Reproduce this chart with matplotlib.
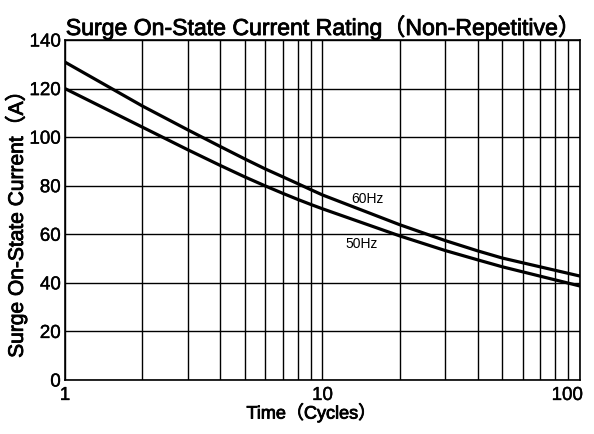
import matplotlib
matplotlib.use("Agg")
from matplotlib import pyplot as plt
from matplotlib import patheffects as pe
from matplotlib.transforms import ScaledTranslation
from matplotlib.ticker import FixedLocator, NullFormatter

plt.rcParams["font.family"] = ["Liberation Sans", "Noto Sans CJK JP", "DejaVu Sans"]

# ---- data ----
cycles = [1, 2, 3, 4, 5, 6, 7, 8, 9, 10, 20, 30, 40, 50, 100]
i_60hz = [130.9, 112.8, 103.0, 96.2, 91.0, 86.9, 83.7, 80.9, 78.4, 76.2,
          63.9, 57.4, 53.2, 50.2, 42.8]
i_50hz = [120.0, 104.1, 94.8, 88.4, 83.6, 79.9, 76.9, 74.4, 72.3, 70.5,
          59.3, 53.3, 49.5, 46.6, 38.7]
x_ticks = [1, 10, 100]
x_tick_labels = ["1", "10", "100"]
y_ticks = [0, 20, 40, 60, 80, 100, 120, 140]

fig = plt.figure(figsize=(5.94, 4.34), dpi=100)
ax = fig.add_axes([0.1094, 0.1244, 0.867, 0.7834])

ax.plot(cycles, i_60hz, color="black", lw=2.3, zorder=3)
ax.plot(cycles, i_50hz, color="black", lw=2.3, zorder=3)

ax.set_xscale("log")
ax.set_xlim(1, 100)
ax.set_ylim(0, 140)
ax.set_xticks(x_ticks)
ax.set_xticklabels(x_tick_labels)
ax.set_yticks(y_ticks)
ax.xaxis.set_minor_locator(FixedLocator([2, 3, 4, 5, 6, 7, 8, 9, 20, 30, 40, 50, 60, 70, 80, 90]))
ax.xaxis.set_minor_formatter(NullFormatter())
ax.tick_params(which="both", length=0, labelsize=13.5)
ax.tick_params(axis="x", pad=5)
ax.tick_params(axis="y", pad=3)
# last x label sits inside the figure, as in the original
last = ax.get_xticklabels()[-1]
last.set_ha("right")
last.set_transform(last.get_transform() + ScaledTranslation(3 / 100, 0, fig.dpi_scale_trans))

ax.grid(True, which="both", axis="x", color="black", lw=1.0)
ax.grid(True, which="major", axis="y", color="black", lw=1.0)
for s in ax.spines.values():
    s.set_linewidth(1.2)

ax.text(14.9, 74.5, "60Hz", fontsize=10, ha="center", va="center")
ax.text(14.2, 56, "50Hz", fontsize=10, ha="center", va="center")

# medium weight look
medium = [pe.withStroke(linewidth=0.6, foreground="black")]
t = ax.set_title("Surge On-State Current Rating（Non-Repetitive）", fontsize=16.6, pad=3)
xl = ax.set_xlabel("Time（Cycles）", fontsize=13.0)
yl = ax.set_ylabel("Surge On-State Current（A）", fontsize=15.1)
for txt in (t, xl, yl):
    txt.set_path_effects(medium)
for lbl in ax.get_xticklabels() + ax.get_yticklabels():
    lbl.set_path_effects([pe.withStroke(linewidth=0.3, foreground="black")])
ax.xaxis.set_label_coords(0.478, -0.068)
ax.yaxis.set_label_coords(-0.074, 0.474)

fig.savefig("out.png", dpi=100)
